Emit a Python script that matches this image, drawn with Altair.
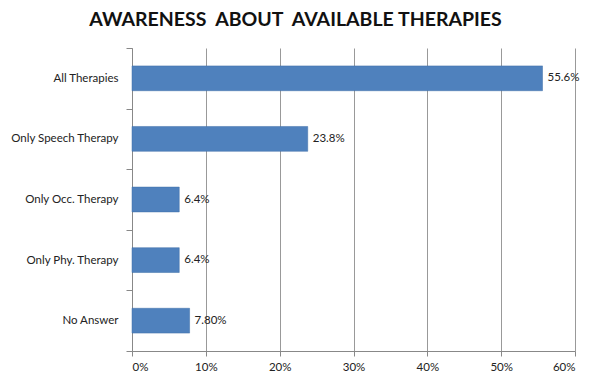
import altair as alt
import pandas as pd

categories = ["All Therapies", "Only Speech Therapy", "Only Occ. Therapy", "Only Phy. Therapy", "No Answer"]
values = [55.6, 23.8, 6.4, 6.4, 7.8]
labels = ["55.6%", "23.8%", "6.4%", "6.4%", "7.80%"]

df = pd.DataFrame({"cat": categories, "val": values, "lab": labels})

FONT = "Lato"

y = alt.Y("cat:N", sort=categories, title=None,
          scale=alt.Scale(paddingInner=0, paddingOuter=0),
          axis=alt.Axis(tickBand="extent", labelFontSize=11.5, labelFont=FONT,
                        labelColor="#222", domainColor="#888", tickColor="#888",
                        tickSize=6, labelPadding=8, grid=False))
x = alt.X("val:Q", title=None,
          scale=alt.Scale(domain=[0, 60], nice=False),
          axis=alt.Axis(values=[0, 10, 20, 30, 40, 50, 60], labelExpr="datum.value + '%'",
                        labelFontSize=11.5, labelFont=FONT, labelColor="#222",
                        grid=True, gridColor="#999", domainColor="#888", tickColor="#888",
                        tickSize=5, labelPadding=5))

bars = alt.Chart(df).mark_bar(color="#4F81BD", stroke="#3f6fa8", strokeWidth=0.5,
                              height={"band": 0.41}).encode(y=y, x=x)
text = alt.Chart(df).mark_text(align="left", dx=5, font=FONT, fontSize=11.5, color="#222").encode(
    y=alt.Y("cat:N", sort=categories), x="val:Q", text="lab:N")

chart = (bars + text).properties(
    width=443, height=303,
    autosize=alt.AutoSizeParams(type="none"),
    padding={"left": 124, "top": 40, "right": 12, "bottom": 25},
    title=alt.TitleParams("AWARENESS\u00a0 ABOUT\u00a0 AVAILABLE THERAPIES", font=FONT,
                          fontSize=19.5, fontWeight="bold", color="#111", anchor="middle",
                          dx=-58, offset=12),
).configure_view(stroke=None)

chart.save("out.html", embed_options={"renderer": "svg", "actions": False})
